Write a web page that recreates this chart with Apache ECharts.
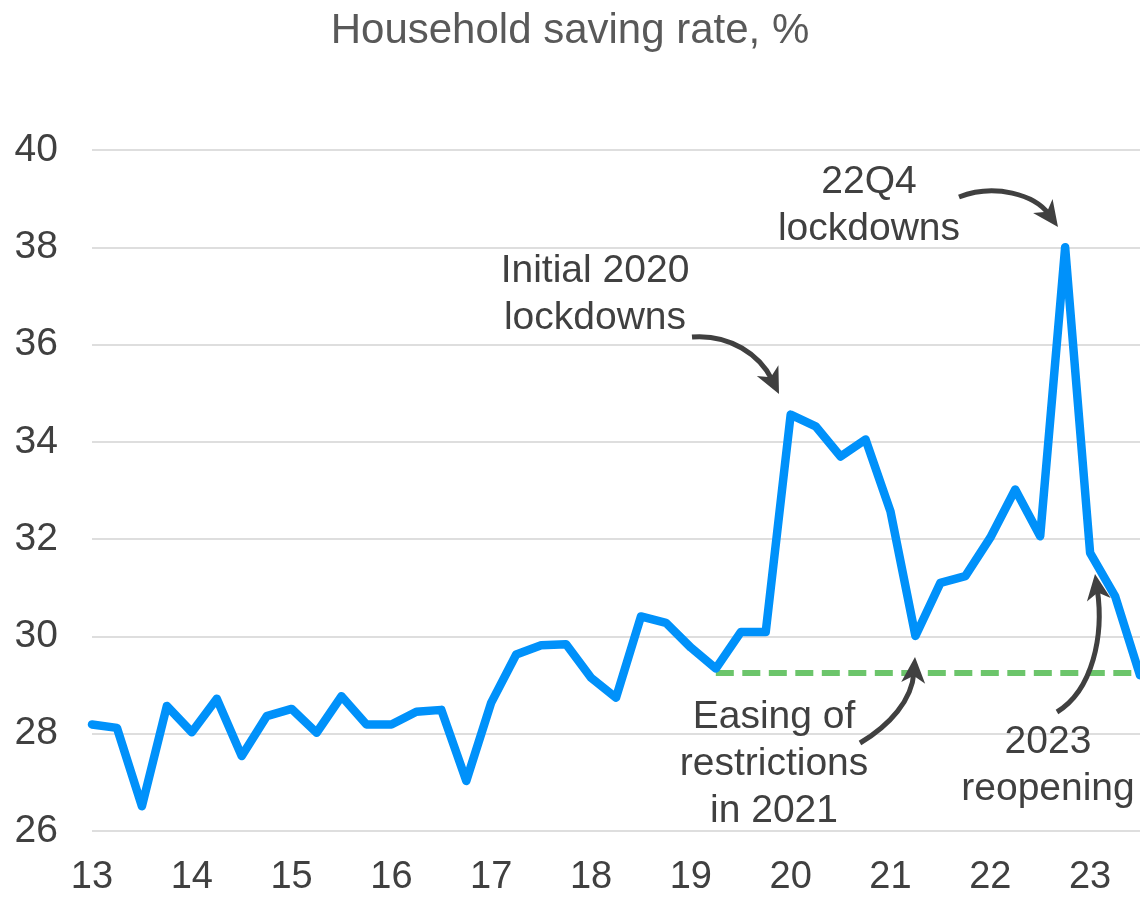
<!DOCTYPE html>
<html>
<head>
<meta charset="utf-8">
<title>Household saving rate</title>
<script src="https://cdn.jsdelivr.net/npm/echarts@6/dist/echarts.min.js"></script>
<style>
  html, body { margin: 0; padding: 0; background: #ffffff; }
  #chart { width: 1140px; height: 897px; }
</style>
</head>
<body>
<div id="chart"></div>
<script>
// Quarterly observations, 2013Q1 - 2023Q3
const quarters = [];
for (let y = 2013; y <= 2023; y++) {
  for (let q = 1; q <= 4; q++) {
    if (y === 2023 && q > 3) break;
    quarters.push(y + 'Q' + q);
  }
}

// Household saving rate, %
const savingRate = [
  28.19, 28.12, 26.51, 28.57,   // 2013
  28.03, 28.72, 27.54, 28.36,   // 2014
  28.51, 28.02, 28.77, 28.19,   // 2015
  28.19, 28.45, 28.49, 27.03,   // 2016
  28.64, 29.63, 29.82, 29.84,   // 2017
  29.15, 28.74, 30.41, 30.28,   // 2018
  29.77, 29.34, 30.09, 30.09,   // 2019
  34.56, 34.32, 33.70, 34.05,   // 2020
  32.57, 30.01, 31.10, 31.24,   // 2021
  32.03, 33.02, 32.06, 38.00,   // 2022
  31.72, 30.83, 29.20           // 2023
];

// Pre-pandemic reference level, drawn from 2019Q2 onward
const referenceLevel = 29.25;
const referenceStart = '2019Q2';

const yTicks = { min: 26, max: 40, step: 2 };

const annotationTexts = [
  'Initial 2020\nlockdowns',
  '22Q4\nlockdowns',
  'Easing of\nrestrictions\nin 2021',
  '2023\nreopening'
];

// ---- presentation ----
const FONT = '"Liberation Sans", Arial, Helvetica, sans-serif';
const TEXT = '#404040';
const ARROW = '#404040';

const startIdx = quarters.indexOf(referenceStart);
const referenceSeries = quarters.map((_, i) => (i >= startIdx ? referenceLevel : null));

// Annotation layout (pixel positions of text blocks and arrow paths)
const notes = [
  { text: annotationTexts[0], x: 595, y: 295,
    arrow: { from: [692, 337], c1: [730, 334], c2: [760, 355], tip: [779, 394] } },
  { text: annotationTexts[1], x: 869, y: 206,
    arrow: { from: [959, 197], c1: [995, 183], c2: [1035, 195], tip: [1058, 227] } },
  { text: annotationTexts[2], x: 774, y: 764,
    arrow: { from: [860, 743], c1: [890, 725], c2: [912, 700], tip: [915, 657] } },
  { text: annotationTexts[3], x: 1048, y: 766,
    arrow: { from: [1057, 712], c1: [1093, 690], c2: [1104, 635], tip: [1095, 574] } }
];

function arrowGraphics(a) {
  const headLen = 26, headHalf = 12;
  let dx = a.tip[0] - a.c2[0], dy = a.tip[1] - a.c2[1];
  const len = Math.hypot(dx, dy);
  dx /= len; dy /= len;
  const px = -dy, py = dx;
  const base = [a.tip[0] - dx * headLen, a.tip[1] - dy * headLen];
  const notch = [a.tip[0] - dx * headLen * 0.72, a.tip[1] - dy * headLen * 0.72];
  const endPt = [a.tip[0] - dx * headLen * 0.6, a.tip[1] - dy * headLen * 0.6];
  return [
    {
      type: 'bezierCurve',
      shape: { x1: a.from[0], y1: a.from[1], cpx1: a.c1[0], cpy1: a.c1[1],
               cpx2: a.c2[0], cpy2: a.c2[1], x2: endPt[0], y2: endPt[1] },
      style: { stroke: ARROW, lineWidth: 5, fill: null },
      z: 10
    },
    {
      type: 'polygon',
      shape: { points: [a.tip,
        [base[0] + px * headHalf, base[1] + py * headHalf],
        notch,
        [base[0] - px * headHalf, base[1] - py * headHalf]] },
      style: { fill: ARROW },
      z: 10
    }
  ];
}

const graphics = [];
notes.forEach(n => {
  graphics.push({
    type: 'text',
    x: n.x, y: n.y,
    style: { text: n.text, align: 'center', verticalAlign: 'middle',
             font: '39px ' + FONT, lineHeight: 47, fill: TEXT },
    z: 10
  });
  arrowGraphics(n.arrow).forEach(g => graphics.push(g));
});

const chart = echarts.init(document.getElementById('chart'), null, { renderer: 'canvas' });

chart.setOption({
  animation: false,
  backgroundColor: '#ffffff',
  title: {
    text: 'Household saving rate, %',
    left: 'center',
    top: 5,
    textStyle: { fontFamily: FONT, fontSize: 42, fontWeight: 'normal', color: '#595959' }
  },
  grid: { left: 92, top: 150, width: 1050, height: 682 },
  xAxis: {
    type: 'category',
    data: quarters,
    boundaryGap: false,
    axisLine: { show: false },
    axisTick: { show: false },
    splitLine: { show: false },
    axisLabel: {
      interval: (i) => i % 4 === 0,
      formatter: (v) => v.slice(2, 4),
      fontFamily: FONT, fontSize: 38, color: TEXT, margin: 28
    }
  },
  yAxis: {
    type: 'value',
    min: yTicks.min, max: yTicks.max, interval: yTicks.step,
    axisLine: { show: false },
    axisTick: { show: false },
    axisLabel: { fontFamily: FONT, fontSize: 39, color: TEXT, margin: 34 },
    splitLine: { lineStyle: { color: '#dedede', width: 2 } }
  },
  series: [
    {
      name: 'Reference level',
      type: 'line',
      data: referenceSeries,
      symbol: 'none',
      connectNulls: false,
      lineStyle: { color: '#6cc56b', width: 6, type: [18, 8.5] },
      z: 2
    },
    {
      name: 'Household saving rate',
      type: 'line',
      data: savingRate,
      symbol: 'none',
      lineStyle: { color: '#0091fa', width: 8.5, cap: 'round', join: 'round' },
      z: 3
    }
  ],
  graphic: graphics
});
</script>
</body>
</html>
